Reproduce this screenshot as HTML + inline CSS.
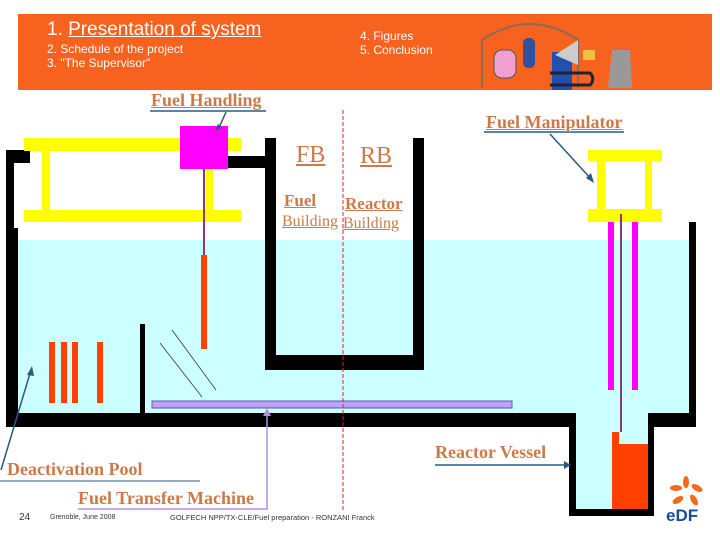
<!DOCTYPE html>
<html><head><meta charset="utf-8"><style>
body{margin:0;width:720px;height:540px;overflow:hidden;background:#fff;position:relative;font-family:"Liberation Sans",sans-serif}
.a{position:absolute}
.s{font-family:"Liberation Serif",serif;font-weight:bold;color:#cd7a48;text-decoration:underline;white-space:nowrap}
</style></head><body>
<div class="a" style="left:18px;top:14px;width:694px;height:76px;background:#f7621e"></div>
<div class="a" style="left:47px;top:19px;color:#fff;font-size:19px;white-space:nowrap">1. <u>Presentation of system</u></div>
<div class="a" style="left:47px;top:42px;color:#fff;font-size:12px;line-height:14px;white-space:nowrap">2. Schedule of the project<br>3. "The Supervisor"</div>
<div class="a" style="left:360px;top:29px;color:#fff;font-size:12px;line-height:14px;white-space:nowrap">4. Figures<br>5. Conclusion</div>
<svg class="a" style="left:0;top:0" width="720" height="540">
<path d="M482 88 V40 Q530 8 578 40 V88" fill="none" stroke="#8a6a5a" stroke-width="2"/>
<rect x="494" y="50" width="22" height="28" rx="8" fill="#f0a0d0" stroke="#555"/>
<rect x="523" y="38" width="12" height="30" rx="5" fill="#3050a0"/>
<rect x="552" y="52" width="20" height="38" fill="#2050b0"/>
<polygon points="555,55 578,40 578,65" fill="#ccc"/>
<rect x="583" y="50" width="12" height="10" fill="#f0c040"/>
<path d="M550 73 h40 a8 8 0 0 1 0 12 h-40" fill="none" stroke="#223" stroke-width="3"/>
<polygon points="612,50 630,50 632,88 608,88" fill="#999"/>
<rect x="14" y="240" width="676" height="173" fill="#ccffff"/>
<rect x="576" y="413" width="72" height="96" fill="#ccffff"/>
<rect x="6" y="150" width="24" height="13" fill="#000"/>
<rect x="6" y="150" width="8" height="275" fill="#000"/>
<rect x="6" y="228" width="12" height="197" fill="#000"/>
<rect x="6" y="413" width="570" height="14" fill="#000"/>
<rect x="569" y="413" width="7" height="103" fill="#000"/>
<rect x="569" y="509" width="85" height="7" fill="#000"/>
<rect x="648" y="413" width="6" height="103" fill="#000"/>
<rect x="648" y="413" width="48" height="14" fill="#000"/>
<rect x="689" y="222" width="7" height="205" fill="#000"/>
<rect x="140" y="324" width="5" height="90" fill="#000"/>
<rect x="265" y="138" width="11" height="232" fill="#000"/>
<rect x="413" y="138" width="11" height="232" fill="#000"/>
<rect x="265" y="355" width="159" height="15" fill="#000"/>
<rect x="228" y="156" width="40" height="12" fill="#000"/>
<rect x="24" y="138" width="217" height="13" fill="#ffff00"/>
<rect x="24" y="210" width="217" height="12" fill="#ffff00"/>
<rect x="42" y="151" width="8" height="59" fill="#ffff00"/>
<rect x="206" y="151" width="7" height="59" fill="#ffff00"/>
<rect x="180" y="126" width="48" height="43" fill="#ff00ff"/>
<line x1="204" y1="169" x2="204" y2="256" stroke="#8a3a70" stroke-width="2"/>
<rect x="201" y="255" width="6" height="94" fill="#ff4000"/>
<rect x="49" y="342" width="6" height="61" fill="#ff4000"/>
<rect x="61" y="342" width="6" height="61" fill="#ff4000"/>
<rect x="72" y="342" width="6" height="61" fill="#ff4000"/>
<rect x="97" y="342" width="6" height="61" fill="#ff4000"/>
<line x1="160" y1="343" x2="202" y2="397" stroke="#335" stroke-width="0.8"/>
<line x1="172" y1="330" x2="216" y2="390" stroke="#335" stroke-width="0.8"/>
<rect x="152" y="401" width="360" height="7" fill="#c0a0f8" stroke="#5060a0" stroke-width="1"/>
<rect x="588" y="150" width="74" height="11" fill="#ffff00"/>
<rect x="588" y="209" width="74" height="13" fill="#ffff00"/>
<rect x="597" y="161" width="8" height="48" fill="#ffff00"/>
<rect x="645" y="161" width="7" height="48" fill="#ffff00"/>
<rect x="608" y="222" width="6" height="168" fill="#ff00ff"/>
<rect x="632" y="222" width="6" height="168" fill="#ff00ff"/>
<line x1="621" y1="214" x2="621" y2="432" stroke="#8a3a70" stroke-width="2"/>
<rect x="612" y="432" width="7" height="12" fill="#ff4000"/>
<rect x="612" y="444" width="36" height="65" fill="#ff4000"/>
<line x1="343" y1="110" x2="343" y2="512" stroke="#e02020" stroke-width="1" stroke-dasharray="4,2"/>
<line x1="150" y1="111" x2="266" y2="111" stroke="#2a5a80" stroke-width="1.5"/>
<line x1="226" y1="112" x2="218" y2="130" stroke="#2a5a80" stroke-width="1.5"/>
<polygon points="215,131 218,124 222,127" fill="#2a5a80"/>
<line x1="484" y1="132" x2="624" y2="132" stroke="#2a5a80" stroke-width="1.5"/>
<line x1="550" y1="134" x2="592" y2="180" stroke="#2a5a80" stroke-width="1.5"/>
<polygon points="594,183 586,178 591,173" fill="#2a5a80"/>
<line x1="435" y1="465" x2="566" y2="465" stroke="#2a5a80" stroke-width="1.5"/>
<polygon points="571,465 564,461 564,469" fill="#2a5a80"/>
<line x1="0" y1="481" x2="200" y2="481" stroke="#2a5a80" stroke-width="1"/>
<line x1="1" y1="470" x2="31" y2="370" stroke="#2a5a80" stroke-width="1.5"/>
<polygon points="32,366 27,375 34,376" fill="#2a5a80"/>
<line x1="78" y1="509" x2="268" y2="509" stroke="#b090e0" stroke-width="1.5"/>
<line x1="267" y1="509" x2="267" y2="414" stroke="#b090e0" stroke-width="1.5"/>
<polygon points="267,408 263,416 271,416" fill="#b090e0"/>
<g fill="#f26a1b">
<ellipse cx="686" cy="482" rx="3" ry="6"/>
<ellipse cx="676" cy="488" rx="6" ry="3"/>
<ellipse cx="697" cy="488" rx="6" ry="3" transform="rotate(30 697 488)"/>
<ellipse cx="678" cy="500" rx="6" ry="3" transform="rotate(-30 678 500)"/>
<ellipse cx="694" cy="500" rx="3" ry="6" transform="rotate(-30 694 500)"/>
</g>
<text x="666" y="521" font-family="Liberation Sans" font-weight="bold" font-size="17" fill="#1a4a9a">eDF</text>
</svg>
<div class="a s" style="left:151px;top:90px;font-size:18px">Fuel Handling</div>
<div class="a s" style="left:486px;top:112px;font-size:18px">Fuel Manipulator</div>
<div class="a s" style="left:296px;top:142px;font-size:24px;font-weight:normal">FB</div>
<div class="a s" style="left:360px;top:143px;font-size:24px;font-weight:normal">RB</div>
<div class="a s" style="left:284px;top:191px;font-size:17px">Fuel</div>
<div class="a s" style="left:345px;top:194px;font-size:17px">Reactor</div>
<div class="a s" style="left:282px;top:213px;font-size:16px;font-weight:normal">Building</div>
<div class="a s" style="left:343px;top:215px;font-size:16px;font-weight:normal">Building</div>
<div class="a s" style="left:435px;top:442px;font-size:18px;text-decoration:none">Reactor Vessel</div>
<div class="a s" style="left:7px;top:459px;font-size:18px;text-decoration:none">Deactivation Pool</div>
<div class="a s" style="left:78px;top:488px;font-size:18px;text-decoration:none">Fuel Transfer Machine</div>
<div class="a" style="left:19px;top:512px;font-size:10px;color:#333">24</div>
<div class="a" style="left:50px;top:514px;font-size:7px;color:#333;white-space:nowrap">Grenoble, June 2008</div>
<div class="a" style="left:170px;top:513px;font-size:7.5px;color:#333;white-space:nowrap">GOLFECH NPP/TX-CLE/Fuel preparation - RONZANI Franck</div>
</body></html>
